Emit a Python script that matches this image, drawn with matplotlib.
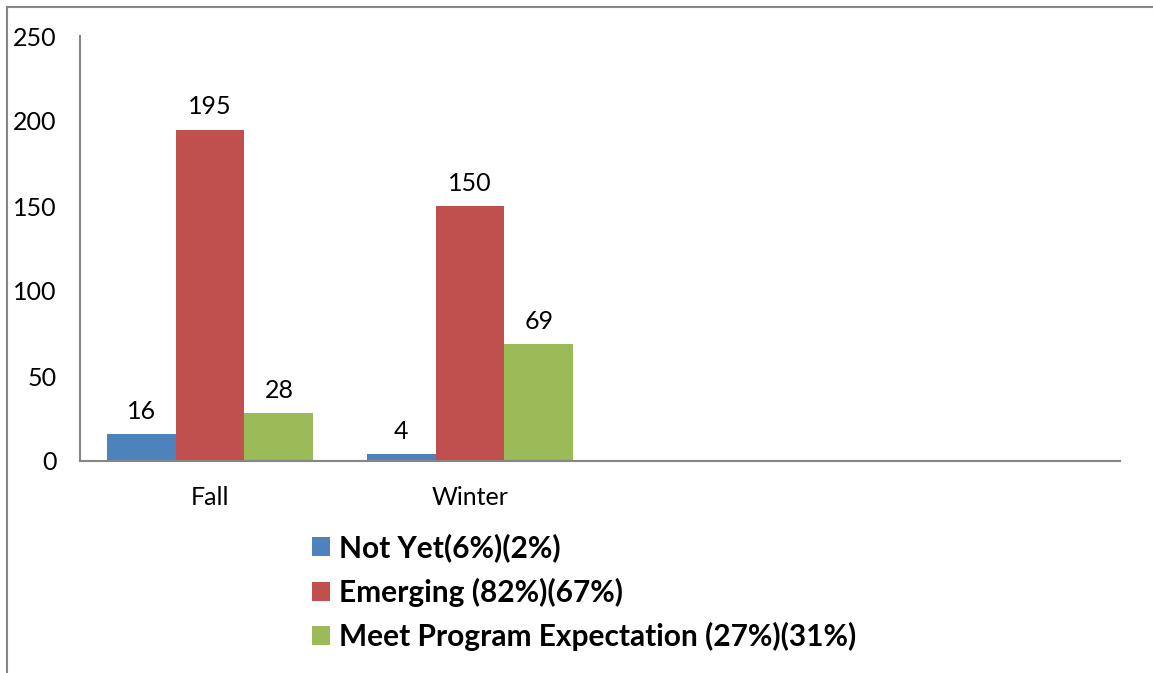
import matplotlib.pyplot as plt
import numpy as np
from matplotlib.lines import Line2D

plt.rcParams['font.family'] = ['Lato', 'DejaVu Sans']

# data
categories = ["Fall", "Winter", "", ""]
series_names = ["Not Yet(6%)(2%)", "Emerging (82%)(67%)", "Meet Program Expectation (27%)(31%)"]
not_yet = [16, 4]
emerging = [195, 150]
meet_exp = [28, 69]
colors = ["#4F81BD", "#C0504D", "#9BBB59"]

fig = plt.figure(figsize=(11.53, 6.73), dpi=100)
ax = fig.add_axes([80 / 1153, 1 - 461 / 673, 1040 / 1153, 425 / 673])

bar_w = 0.265
x = np.arange(len(not_yet))
handles = []
for i, (vals, name, col) in enumerate(zip([not_yet, emerging, meet_exp], series_names, colors)):
    bars = ax.bar(x + (i - 1) * bar_w, vals, width=bar_w, color=col, label=name)
    handles.append(bars)
    for b, v in zip(bars, vals):
        ax.annotate(str(v), (b.get_x() + b.get_width() / 2, v),
                    xytext=(0, 8), textcoords="offset points",
                    ha="center", va="bottom", fontsize=18)

ax.set_xlim(-0.5, len(categories) - 0.5)
ax.set_ylim(0, 250)
ax.set_yticks(range(0, 251, 50))
ax.set_xticks(range(len(categories)))
ax.set_xticklabels(categories, fontsize=18)
ax.tick_params(axis="y", labelsize=18, length=0, pad=17)
ax.tick_params(axis="x", length=0, pad=18)

for s in ["top", "right"]:
    ax.spines[s].set_visible(False)
for s in ["left", "bottom"]:
    ax.spines[s].set_color("#868686")
    ax.spines[s].set_linewidth(1.5)

# outer chart border (left and top only visible)
fig.add_artist(Line2D([6.5 / 1153, 6.5 / 1153], [0, 1 - 6.5 / 673], transform=fig.transFigure,
                      color="#868686", lw=1.5))
fig.add_artist(Line2D([6.5 / 1153, 1], [1 - 6.5 / 673, 1 - 6.5 / 673], transform=fig.transFigure,
                      color="#868686", lw=1.5))

leg = fig.legend(handles=handles, loc="upper left", bbox_to_anchor=(312 / 1153, 1 - 533 / 673),
                 frameon=False, prop={"weight": "bold", "size": 21.5},
                 handlelength=0.6, handleheight=0.6, handletextpad=0.3, labelspacing=0.52,
                 borderpad=0, borderaxespad=0)

fig.savefig("out.png", dpi=100)
